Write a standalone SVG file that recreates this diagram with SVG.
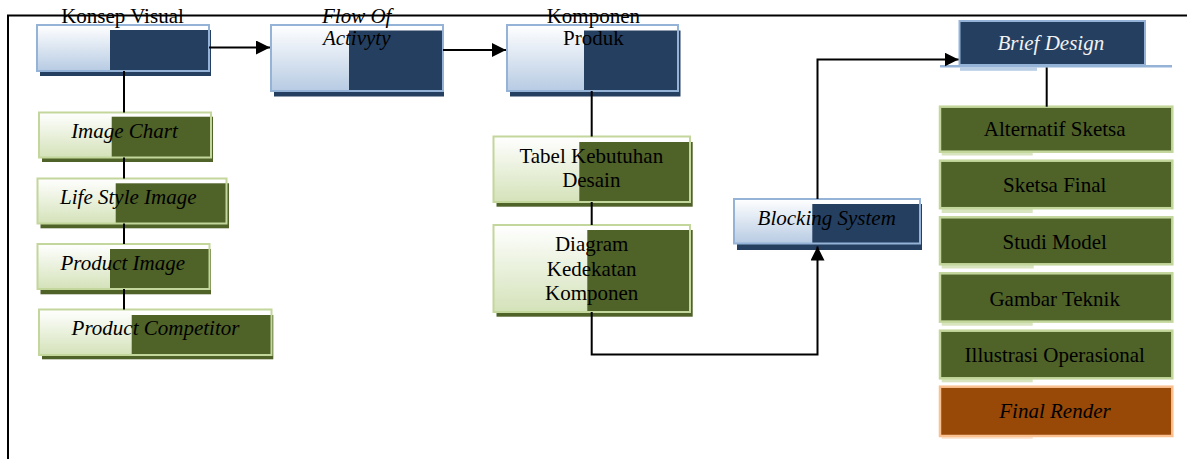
<svg xmlns="http://www.w3.org/2000/svg" width="1187" height="459" viewBox="0 0 1187 459">
<style>
text{font-family:"Liberation Serif","Times New Roman",serif;font-size:21px;fill:#000;text-anchor:middle}
.it{font-style:italic}
.shb{fill:#243F60}
.shg{fill:#4F6228}
.bdb{fill:none;stroke:#95B3D7;stroke-width:2}
.bdg{fill:none;stroke:#C3D69B;stroke-width:2}
.gb{fill:url(#gradB)}
.gg{fill:url(#gradG)}
.olive{fill:#4F6228;stroke:#C3D69B;stroke-width:2.5}
.strip{fill:#D7E4BD}
.conn{fill:none;stroke:#000;stroke-width:2}
.frame{fill:none;stroke:#000;stroke-width:2}
</style>
<defs>
<linearGradient id="gradB" x1="0" y1="0" x2="0" y2="1">
<stop offset="0" stop-color="#FFFFFF"/>
<stop offset="1" stop-color="#B7CBE3"/>
</linearGradient>
<linearGradient id="gradG" x1="0" y1="0" x2="0" y2="1">
<stop offset="0" stop-color="#FFFFFF"/>
<stop offset="1" stop-color="#D4E2B9"/>
</linearGradient>
<marker id="arr" markerUnits="userSpaceOnUse" markerWidth="15" markerHeight="14" refX="14" refY="7" orient="auto">
<path d="M0,0 L14,7 L0,14 z" fill="#000"/>
</marker>
</defs>

<g id="frame">
<path class="frame" d="M8,459 L8,15.5 L1187,15.5"/>
</g>

<g id="konsep-visual">
<rect class="shb" x="40" y="30" width="171" height="46"/>
<rect class="gb" x="37" y="25" width="73" height="46"/>
<rect class="bdb" x="37" y="25" width="172" height="46"/>
<text x="122.5" y="23">Konsep Visual</text>
</g>

<g id="flow-of-activity">
<rect class="shb" x="274" y="30.5" width="170" height="66"/>
<rect class="gb" x="271" y="25" width="78" height="66"/>
<rect class="bdb" x="271" y="25" width="172" height="66"/>
<text class="it" x="356.7" y="22.7">Flow Of</text>
<text class="it" x="356.7" y="45">Activyty</text>
</g>

<g id="komponen-produk">
<rect class="shb" x="510" y="30.5" width="170.5" height="66"/>
<rect class="gb" x="507" y="25" width="77" height="66"/>
<rect class="bdb" x="507" y="25" width="171" height="66"/>
<text x="593.3" y="22.7">Komponen</text>
<text x="593.3" y="45">Produk</text>
</g>

<g id="image-chart">
<rect class="shg" x="42" y="116.7" width="171" height="45.3"/>
<rect class="gg" x="39" y="112.5" width="72.7" height="45"/>
<rect class="bdg" x="39" y="112.5" width="172" height="45"/>
<text class="it" x="124.5" y="137.5">Image Chart</text>
</g>

<g id="life-style-image">
<rect class="shg" x="40.5" y="183.3" width="188.5" height="45"/>
<rect class="gg" x="37.5" y="178.5" width="78.2" height="45"/>
<rect class="bdg" x="37.5" y="178.5" width="189" height="45"/>
<text class="it" x="128.3" y="203.5">Life Style Image</text>
</g>

<g id="product-image">
<rect class="shg" x="40.5" y="249" width="170.5" height="45.3"/>
<rect class="gg" x="37.5" y="244" width="72.5" height="45"/>
<rect class="bdg" x="37.5" y="244" width="172" height="45"/>
<text class="it" x="122.8" y="269.5">Product Image</text>
</g>

<g id="product-competitor">
<rect class="shg" x="42" y="315" width="231.3" height="44.3"/>
<rect class="gg" x="39" y="309.5" width="92.7" height="45.5"/>
<rect class="bdg" x="39" y="309.5" width="232.5" height="45.5"/>
<text class="it" x="155.5" y="335.3">Product Competitor</text>
</g>

<g id="tabel-kebutuhan-desain">
<rect class="shg" x="496.5" y="142" width="196.2" height="64.7"/>
<rect class="gg" x="493.5" y="136.5" width="85.8" height="65.5"/>
<rect class="bdg" x="493.5" y="136.5" width="196.5" height="65.5"/>
<text x="591.3" y="162.7">Tabel Kebutuhan</text>
<text x="591.3" y="186.7">Desain</text>
</g>

<g id="diagram-kedekatan-komponen">
<rect class="shg" x="496.5" y="230" width="196.2" height="86.7"/>
<rect class="gg" x="493.5" y="225" width="93.8" height="87"/>
<rect class="bdg" x="493.5" y="225" width="196.5" height="87"/>
<text x="591.7" y="250.5">Diagram</text>
<text x="591.7" y="275.5">Kedekatan</text>
<text x="591.7" y="300.3">Komponen</text>
</g>

<g id="blocking-system">
<rect class="shb" x="737" y="204" width="185" height="46"/>
<rect class="gb" x="734" y="199" width="78.3" height="44.5"/>
<rect class="bdb" x="734" y="199" width="186" height="44.5"/>
<text class="it" x="826.7" y="224.5">Blocking System</text>
</g>

<g id="brief-design">
<rect x="960" y="67.5" width="77" height="3.3" fill="#B9CDE5"/>
<rect x="959.5" y="21" width="185.5" height="44" fill="#243F60" stroke="#95B3D7" stroke-width="2"/>
<line x1="940" y1="66.3" x2="1172" y2="66.3" stroke="#95B3D7" stroke-width="2.6"/>
<text class="it" x="1050.8" y="49.5" style="fill:#F2F2F2">Brief Design</text>
</g>

<g id="alternatif-sketsa">
<rect class="strip" x="941.7" y="152" width="91" height="3.5"/>
<rect class="olive" x="940" y="106.7" width="232.3" height="45"/>
<text x="1054.7" y="135.7">Alternatif Sketsa</text>
</g>

<g id="sketsa-final">
<rect class="strip" x="941.7" y="208.5" width="91" height="4.5"/>
<rect class="olive" x="940" y="160.7" width="232.3" height="47.5"/>
<text x="1054.7" y="192.3">Sketsa Final</text>
</g>

<g id="studi-model">
<rect class="strip" x="941.7" y="264.5" width="92" height="4"/>
<rect class="olive" x="940" y="217.3" width="232.3" height="47"/>
<text x="1054.7" y="249">Studi Model</text>
</g>

<g id="gambar-teknik">
<rect class="strip" x="941.7" y="321.7" width="91" height="4"/>
<rect class="olive" x="940" y="273.3" width="232.3" height="48.3"/>
<text x="1054.7" y="305.7">Gambar Teknik</text>
</g>

<g id="illustrasi-operasional">
<rect class="strip" x="941.7" y="378.3" width="91" height="4"/>
<rect class="olive" x="940" y="330.7" width="232.3" height="47.6"/>
<text x="1054.7" y="362.3">Illustrasi Operasional</text>
</g>

<g id="final-render">
<rect x="941.7" y="436" width="91" height="2.8" fill="#FBE3D0"/>
<rect x="940" y="386.7" width="232.3" height="49.3" fill="#984807" stroke="#FAC090" stroke-width="2.5"/>
<text class="it" x="1055" y="418.3">Final Render</text>
</g>

<g id="connectors">
<path class="conn" d="M209,47.5 L270,47.5" marker-end="url(#arr)"/>
<path class="conn" d="M443,50 L506,50" marker-end="url(#arr)"/>
<path class="conn" d="M124,71 L124,112.5"/>
<path class="conn" d="M124,157.5 L124,178.5"/>
<path class="conn" d="M124,223.5 L124,244"/>
<path class="conn" d="M124,289 L124,309.5"/>
<path class="conn" d="M591.7,91 L591.7,136.5"/>
<path class="conn" d="M591.7,202 L591.7,225"/>
<path class="conn" d="M591.7,312 L591.7,354.5 L817.5,354.5 L817.5,246.5" marker-end="url(#arr)"/>
<path class="conn" d="M817.5,199 L817.5,59.5 L958.5,59.5" marker-end="url(#arr)"/>
<path class="conn" d="M1046.7,67.5 L1046.7,106.7"/>
</g>
</svg>
